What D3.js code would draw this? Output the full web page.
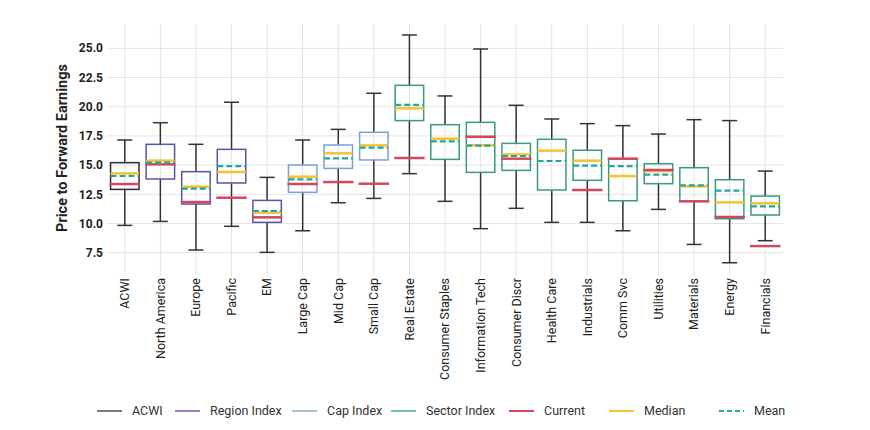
<!DOCTYPE html>
<html>
<head>
<meta charset="utf-8">
<script src="https://cdn.jsdelivr.net/npm/d3@7"></script>
<style>
  body { margin: 0; background: #fff; }
  svg text { font-family: Roboto, "Noto Sans", sans-serif; }
</style>
</head>
<body>
<svg id="chart" width="870" height="430"></svg>
<script>
// categories and the index group each one belongs to
var categories = ["ACWI", "North America", "Europe", "Pacific", "EM", "Large Cap", "Mid Cap", "Small Cap",
  "Real Estate", "Consumer Staples", "Information Tech", "Consumer Discr", "Health Care", "Industrials",
  "Comm Svc", "Utilities", "Materials", "Energy", "Financials"];
var groups = ["ACWI", "Region", "Region", "Region", "Region", "Cap", "Cap", "Cap",
  "Sector", "Sector", "Sector", "Sector", "Sector", "Sector", "Sector", "Sector", "Sector", "Sector", "Sector"];

// box plot statistics
var whiskerLow  = [9.84, 10.18, 7.73, 9.76, 7.53, 9.38, 11.78, 12.15, 14.27, 11.90, 9.56, 11.30, 10.10, 10.10, 9.38, 11.21, 8.21, 6.64, 8.53];
var q1          = [12.92, 13.81, 11.67, 13.47, 10.10, 12.67, 14.72, 15.44, 18.81, 15.49, 14.38, 14.55, 12.87, 13.70, 11.95, 13.41, 11.90, 10.41, 10.73];
var median      = [14.29, 15.38, 13.15, 14.41, 10.93, 14.01, 16.01, 16.69, 19.86, 17.26, 16.70, 15.92, 16.24, 15.38, 14.06, 14.49, 13.18, 11.81, 11.73];
var mean        = [14.07, 15.21, 12.98, 14.92, 11.07, 13.78, 15.58, 16.49, 20.15, 17.04, 16.66, 15.78, 15.35, 14.95, 14.92, 14.18, 13.27, 12.81, 11.47];
var q3          = [15.21, 16.78, 14.44, 16.35, 11.98, 15.01, 16.72, 17.81, 21.83, 18.46, 18.66, 16.86, 17.21, 16.27, 15.55, 15.12, 14.78, 13.75, 12.35];
var whiskerHigh = [17.15, 18.63, 16.78, 20.38, 13.95, 17.15, 18.06, 21.15, 26.14, 20.92, 24.94, 20.12, 18.95, 18.55, 18.38, 17.66, 18.89, 18.81, 14.49];
var current     = [13.38, 15.07, 11.84, 12.21, 10.53, 13.38, 13.55, 13.41, 15.61, null, 17.43, 15.55, null, 12.87, 15.55, 14.58, 11.90, 10.56, 8.07];

var yTicks = [7.5, 10, 12.5, 15, 17.5, 20, 22.5, 25];
var legendLabels = ["ACWI", "Region Index", "Cap Index", "Sector Index", "Current", "Median", "Mean"];

(function () {
  var rows = categories.map(function (c, i) {
    return {
      name: c, group: groups[i], lo: whiskerLow[i], q1: q1[i], med: median[i],
      mean: mean[i], q3: q3[i], hi: whiskerHigh[i], cur: current[i]
    };
  });

  var boxColor = { ACWI: "#2b2b2b", Region: "#5557a3", Cap: "#7f9fd1", Sector: "#3a9a80" };
  var cCurrent = "#d4485f", cMedian = "#f5c232", cMean = "#1ea89e";

  var svg = d3.select("#chart");
  var pLeft = 107, pRight = 783, pTop = 24, pBottom = 272;

  var x = d3.scaleBand().domain(categories).range([pLeft, pRight]).paddingInner(0).paddingOuter(0);
  var y = d3.scaleLinear().domain([5.85, 27.08]).range([pBottom, pTop]);
  var bw = x.bandwidth() * 0.8;
  var cap = 15;
  var cx = function (d) { return x(d) + x.bandwidth() / 2; };

  // grid
  svg.append("g").selectAll("line")
    .data(yTicks)
    .enter().append("line")
      .attr("x1", pLeft).attr("x2", pRight)
      .attr("y1", function (d) { return y(d); })
      .attr("y2", function (d) { return y(d); })
      .attr("stroke", "#e3e3e3").attr("stroke-width", 1);

  svg.append("g").selectAll("line")
    .data(categories)
    .enter().append("line")
      .attr("x1", cx).attr("x2", cx)
      .attr("y1", pTop).attr("y2", pBottom + 4)
      .attr("stroke", "#e3e3e3").attr("stroke-width", 1);

  // y tick labels
  svg.append("g").selectAll("text")
    .data(yTicks)
    .enter().append("text")
      .attr("x", pLeft - 4)
      .attr("y", function (d) { return y(d); })
      .attr("dy", "0.35em")
      .attr("text-anchor", "end")
      .attr("font-size", 12).attr("font-weight", "bold").attr("fill", "#222")
      .text(d3.format(".1f"));

  // y axis title
  svg.append("text")
    .attr("transform", "translate(67," + ((pTop + pBottom) / 2) + ") rotate(-90)")
    .attr("text-anchor", "middle")
    .attr("font-size", 14.5).attr("font-weight", "bold").attr("fill", "#222")
    .text("Price to Forward Earnings");

  // x labels
  svg.append("g").selectAll("text")
    .data(categories)
    .enter().append("text")
      .attr("transform", function (d) {
        return "translate(" + cx(d) + "," + (pBottom + 6) + ") rotate(-90)";
      })
      .attr("dy", "0.35em")
      .attr("text-anchor", "end")
      .attr("font-size", 12.5).attr("fill", "#222")
      .text(function (d) { return d; });

  // boxes
  var g = svg.append("g").selectAll("g")
    .data(rows)
    .enter().append("g")
      .attr("transform", function (d) { return "translate(" + cx(d.name) + ",0)"; });

  // whiskers
  g.append("line")
    .attr("x1", 0).attr("x2", 0)
    .attr("y1", function (d) { return y(d.hi); })
    .attr("y2", function (d) { return y(d.q3); })
    .attr("stroke", "#333").attr("stroke-width", 1.5);
  g.append("line")
    .attr("x1", 0).attr("x2", 0)
    .attr("y1", function (d) { return y(d.q1); })
    .attr("y2", function (d) { return y(d.lo); })
    .attr("stroke", "#333").attr("stroke-width", 1.5);
  g.append("line")
    .attr("x1", -cap / 2).attr("x2", cap / 2)
    .attr("y1", function (d) { return y(d.hi); })
    .attr("y2", function (d) { return y(d.hi); })
    .attr("stroke", "#333").attr("stroke-width", 1.5);
  g.append("line")
    .attr("x1", -cap / 2).attr("x2", cap / 2)
    .attr("y1", function (d) { return y(d.lo); })
    .attr("y2", function (d) { return y(d.lo); })
    .attr("stroke", "#333").attr("stroke-width", 1.5);

  g.append("rect")
    .attr("x", -bw / 2).attr("width", bw)
    .attr("y", function (d) { return y(d.q3); })
    .attr("height", function (d) { return y(d.q1) - y(d.q3); })
    .attr("fill", "none")
    .attr("stroke", function (d) { return boxColor[d.group]; })
    .attr("stroke-width", 1.5);

  // median
  g.append("line")
    .attr("x1", -bw / 2).attr("x2", bw / 2)
    .attr("y1", function (d) { return y(d.med); })
    .attr("y2", function (d) { return y(d.med); })
    .attr("stroke", cMedian).attr("stroke-width", 2.5);

  // current
  g.filter(function (d) { return d.cur != null; })
    .append("line")
    .attr("x1", -bw / 2 - 1).attr("x2", bw / 2 + 1)
    .attr("y1", function (d) { return y(d.cur); })
    .attr("y2", function (d) { return y(d.cur); })
    .attr("stroke", cCurrent).attr("stroke-width", 2.5);

  // mean
  g.append("line")
    .attr("x1", -bw / 2).attr("x2", bw / 2)
    .attr("y1", function (d) { return y(d.mean); })
    .attr("y2", function (d) { return y(d.mean); })
    .attr("stroke", cMean).attr("stroke-width", 2.2)
    .attr("stroke-dasharray", "6,3");

  // legend
  var legendColors = ["#7a7a7a", "#8b89c6", "#a9c1dc", "#79c3a5", cCurrent, cMedian, cMean];
  var legendX = [97, 175, 292, 391, 509, 609, 719];
  var ly = 411;
  var lg = svg.append("g").selectAll("g")
    .data(legendLabels)
    .enter().append("g")
      .attr("transform", function (d, i) { return "translate(" + legendX[i] + "," + ly + ")"; });
  lg.append("line")
    .attr("x1", 0).attr("x2", 25).attr("y1", 0).attr("y2", 0)
    .attr("stroke", function (d, i) { return legendColors[i]; })
    .attr("stroke-width", 2)
    .attr("stroke-dasharray", function (d) { return d === "Mean" ? "5,3" : null; });
  lg.append("text")
    .attr("x", 35).attr("dy", "0.35em")
    .attr("font-size", 12.5).attr("fill", "#333")
    .text(function (d) { return d; });
})();
</script>
</body>
</html>
